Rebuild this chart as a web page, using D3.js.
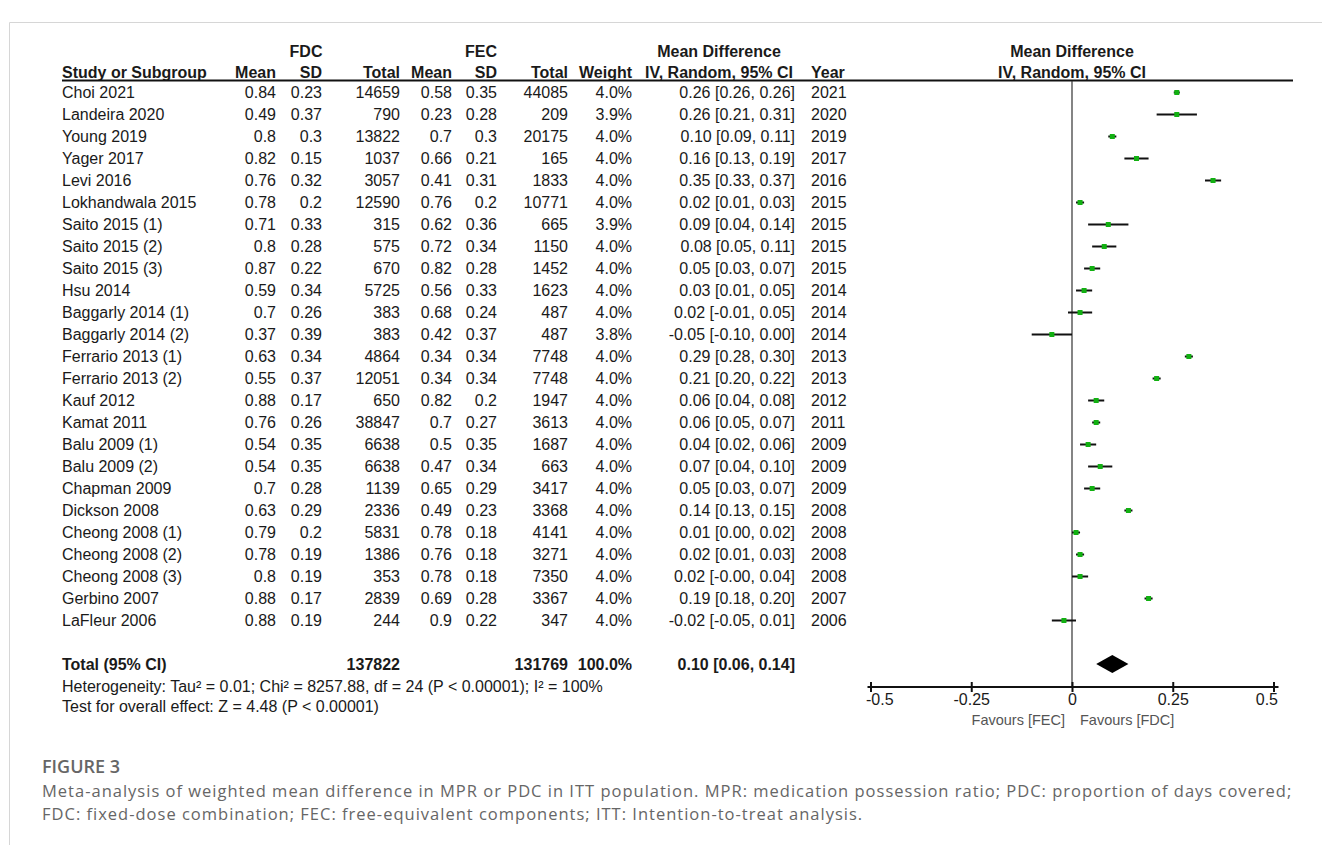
<!DOCTYPE html>
<html>
<head>
<meta charset="utf-8">
<script src="https://cdn.jsdelivr.net/npm/d3@7"></script>
<style>
  html, body { margin: 0; padding: 0; background: #fff; }
  svg { display: block; }
</style>
</head>
<body>
<svg id="chart" width="1322" height="845"></svg>
<script>
// ---------- data ----------
const studies = ["Choi 2021","Landeira 2020","Young 2019","Yager 2017","Levi 2016","Lokhandwala 2015",
  "Saito 2015 (1)","Saito 2015 (2)","Saito 2015 (3)","Hsu 2014","Baggarly 2014 (1)","Baggarly 2014 (2)",
  "Ferrario 2013 (1)","Ferrario 2013 (2)","Kauf 2012","Kamat 2011","Balu 2009 (1)","Balu 2009 (2)",
  "Chapman 2009","Dickson 2008","Cheong 2008 (1)","Cheong 2008 (2)","Cheong 2008 (3)","Gerbino 2007","LaFleur 2006"];
const fdcMean = ["0.84","0.49","0.8","0.82","0.76","0.78","0.71","0.8","0.87","0.59","0.7","0.37","0.63","0.55","0.88","0.76","0.54","0.54","0.7","0.63","0.79","0.78","0.8","0.88","0.88"];
const fdcSD   = ["0.23","0.37","0.3","0.15","0.32","0.2","0.33","0.28","0.22","0.34","0.26","0.39","0.34","0.37","0.17","0.26","0.35","0.35","0.28","0.29","0.2","0.19","0.19","0.17","0.19"];
const fdcTotal= [14659,790,13822,1037,3057,12590,315,575,670,5725,383,383,4864,12051,650,38847,6638,6638,1139,2336,5831,1386,353,2839,244];
const fecMean = ["0.58","0.23","0.7","0.66","0.41","0.76","0.62","0.72","0.82","0.56","0.68","0.42","0.34","0.34","0.82","0.7","0.5","0.47","0.65","0.49","0.78","0.76","0.78","0.69","0.9"];
const fecSD   = ["0.35","0.28","0.3","0.21","0.31","0.2","0.36","0.34","0.28","0.33","0.24","0.37","0.34","0.34","0.2","0.27","0.35","0.34","0.29","0.23","0.18","0.18","0.18","0.28","0.22"];
const fecTotal= [44085,209,20175,165,1833,10771,665,1150,1452,1623,487,487,7748,7748,1947,3613,1687,663,3417,3368,4141,3271,7350,3367,347];
const weight  = ["4.0%","3.9%","4.0%","4.0%","4.0%","4.0%","3.9%","4.0%","4.0%","4.0%","4.0%","3.8%","4.0%","4.0%","4.0%","4.0%","4.0%","4.0%","4.0%","4.0%","4.0%","4.0%","4.0%","4.0%","4.0%"];
const md      = [0.26,0.26,0.10,0.16,0.35,0.02,0.09,0.08,0.05,0.03,0.02,-0.05,0.29,0.21,0.06,0.06,0.04,0.07,0.05,0.14,0.01,0.02,0.02,0.19,-0.02];
const ciLow   = [0.26,0.21,0.09,0.13,0.33,0.01,0.04,0.05,0.03,0.01,-0.01,-0.10,0.28,0.20,0.04,0.05,0.02,0.04,0.03,0.13,0.00,0.01,-0.00,0.18,-0.05];
const ciHigh  = [0.26,0.31,0.11,0.19,0.37,0.03,0.14,0.11,0.07,0.05,0.05,0.00,0.30,0.22,0.08,0.07,0.06,0.10,0.07,0.15,0.02,0.03,0.04,0.20,0.01];
const ciText  = ["0.26 [0.26, 0.26]","0.26 [0.21, 0.31]","0.10 [0.09, 0.11]","0.16 [0.13, 0.19]","0.35 [0.33, 0.37]","0.02 [0.01, 0.03]",
  "0.09 [0.04, 0.14]","0.08 [0.05, 0.11]","0.05 [0.03, 0.07]","0.03 [0.01, 0.05]","0.02 [-0.01, 0.05]","-0.05 [-0.10, 0.00]",
  "0.29 [0.28, 0.30]","0.21 [0.20, 0.22]","0.06 [0.04, 0.08]","0.06 [0.05, 0.07]","0.04 [0.02, 0.06]","0.07 [0.04, 0.10]",
  "0.05 [0.03, 0.07]","0.14 [0.13, 0.15]","0.01 [0.00, 0.02]","0.02 [0.01, 0.03]","0.02 [-0.00, 0.04]","0.19 [0.18, 0.20]","-0.02 [-0.05, 0.01]"];
const years   = [2021,2020,2019,2017,2016,2015,2015,2015,2015,2014,2014,2014,2013,2013,2012,2011,2009,2009,2009,2008,2008,2008,2008,2007,2006];

const totalFDC = 137822, totalFEC = 131769, totalWeight = "100.0%";
const pooled = {md: 0.10, lo: 0.06, hi: 0.14, text: "0.10 [0.06, 0.14]"};
const hetText = "Heterogeneity: Tau\u00B2 = 0.01; Chi\u00B2 = 8257.88, df = 24 (P < 0.00001); I\u00B2 = 100%";
const testText = "Test for overall effect: Z = 4.48 (P < 0.00001)";
const axisTicks = [-0.5, -0.25, 0, 0.25, 0.5];
const axisLabels = ["-0.5", "-0.25", "0", "0.25", "0.5"];
const favLeft = "Favours [FEC]", favRight = "Favours [FDC]";
const captionTitle = "FIGURE 3";
const captionLines = [
  "Meta-analysis of weighted mean difference in MPR or PDC in ITT population. MPR: medication possession ratio; PDC: proportion of days covered;",
  "FDC: fixed-dose combination; FEC: free-equivalent components; ITT: Intention-to-treat analysis."
];

// ---------- layout ----------
const svg = d3.select("#chart");
const FONT = "'Liberation Sans', Arial, Helvetica, sans-serif";
const TXT = "#1a1a1a";

// frame
svg.append("line").attr("x1", 9.5).attr("x2", 1322).attr("y1", 22.5).attr("y2", 22.5).attr("stroke", "#d6d6d6").attr("stroke-width", 1);
svg.append("line").attr("x1", 9.5).attr("x2", 9.5).attr("y1", 22.5).attr("y2", 845).attr("stroke", "#d6d6d6").attr("stroke-width", 1);

const x = d3.scaleLinear().domain([-0.5, 0.5]).range([870.5, 1273.5]);
const y = d3.scaleLinear().domain([0, studies.length - 1]).range([92.5, 92.5 + 22 * (studies.length - 1)]);
const yTotal = 664;

const cols = {
  study: 62, fdcMean: 276, fdcSD: 322, fdcTotal: 400, fecMean: 452, fecSD: 497, fecTotal: 568,
  weight: 632, ci: 795, year: 811
};

const g = svg.append("g").attr("font-family", FONT).attr("font-size", 16).attr("fill", TXT);

// headers
const h1 = 57, h2 = 78;
function txt(parent, xx, yy, s, anchor, bold) {
  return parent.append("text").attr("x", xx).attr("y", yy).attr("text-anchor", anchor || "start")
    .attr("font-weight", bold ? "bold" : "normal").text(s);
}
txt(g, cols.fdcSD - 16, h1, "FDC", "middle", true);
txt(g, cols.fecSD - 16, h1, "FEC", "middle", true);
txt(g, 719, h1, "Mean Difference", "middle", true);
txt(g, x(0), h1, "Mean Difference", "middle", true);
txt(g, cols.study, h2, "Study or Subgroup", "start", true);
txt(g, cols.fdcMean, h2, "Mean", "end", true);
txt(g, cols.fdcSD, h2, "SD", "end", true);
txt(g, cols.fdcTotal, h2, "Total", "end", true);
txt(g, cols.fecMean, h2, "Mean", "end", true);
txt(g, cols.fecSD, h2, "SD", "end", true);
txt(g, cols.fecTotal, h2, "Total", "end", true);
txt(g, cols.weight, h2, "Weight", "end", true);
txt(g, 719, h2, "IV, Random, 95% CI", "middle", true);
txt(g, cols.year, h2, "Year", "start", true);
txt(g, x(0), h2, "IV, Random, 95% CI", "middle", true);

// header rule
svg.append("line").attr("x1", 62).attr("x2", 1293).attr("y1", 80.5).attr("y2", 80.5)
  .attr("stroke", "#111").attr("stroke-width", 2);

// zero line
svg.append("line").attr("x1", x(0)).attr("x2", x(0)).attr("y1", 81).attr("y2", 687)
  .attr("stroke", "#333").attr("stroke-width", 1.2);

// rows
const rows = g.selectAll("g.row").data(studies).join("g").attr("class", "row")
  .attr("transform", (d, i) => `translate(0,${y(i) + 5.7})`);
rows.append("text").attr("x", cols.study).text(d => d);
rows.append("text").attr("x", cols.fdcMean).attr("text-anchor", "end").text((d, i) => fdcMean[i]);
rows.append("text").attr("x", cols.fdcSD).attr("text-anchor", "end").text((d, i) => fdcSD[i]);
rows.append("text").attr("x", cols.fdcTotal).attr("text-anchor", "end").text((d, i) => fdcTotal[i]);
rows.append("text").attr("x", cols.fecMean).attr("text-anchor", "end").text((d, i) => fecMean[i]);
rows.append("text").attr("x", cols.fecSD).attr("text-anchor", "end").text((d, i) => fecSD[i]);
rows.append("text").attr("x", cols.fecTotal).attr("text-anchor", "end").text((d, i) => fecTotal[i]);
rows.append("text").attr("x", cols.weight).attr("text-anchor", "end").text((d, i) => weight[i]);
rows.append("text").attr("x", cols.ci).attr("text-anchor", "end").text((d, i) => ciText[i]);
rows.append("text").attr("x", cols.year).text((d, i) => years[i]);

// CI lines and markers
const plot = svg.append("g");
plot.selectAll("line.ci").data(md).join("line").attr("class", "ci")
  .attr("x1", (d, i) => Math.min(x(ciLow[i]), x(d) - 3))
  .attr("x2", (d, i) => Math.max(x(ciHigh[i]), x(d) + 3))
  .attr("y1", (d, i) => y(i)).attr("y2", (d, i) => y(i))
  .attr("stroke", "#111").attr("stroke-width", 2);
plot.selectAll("rect.pt").data(md).join("rect").attr("class", "pt")
  .attr("x", d => x(d) - 2.5).attr("y", (d, i) => y(i) - 2.5)
  .attr("width", 5).attr("height", 5).attr("fill", "#12b012");

// total row
txt(g, cols.study, yTotal + 5.7, "Total (95% CI)", "start", true);
txt(g, cols.fdcTotal, yTotal + 5.7, totalFDC, "end", true);
txt(g, cols.fecTotal, yTotal + 5.7, totalFEC, "end", true);
txt(g, cols.weight, yTotal + 5.7, totalWeight, "end", true);
txt(g, cols.ci, yTotal + 5.7, pooled.text, "end", true);
txt(g, cols.study, 691.5, hetText, "start", false);
txt(g, cols.study, 712, testText, "start", false);

// diamond
plot.append("path")
  .attr("d", `M${x(pooled.lo)},${yTotal} L${x(pooled.md)},${yTotal - 9} L${x(pooled.hi)},${yTotal} L${x(pooled.md)},${yTotal + 9} Z`)
  .attr("fill", "#000");

// axis
const axisY = 687;
svg.append("line").attr("x1", x(-0.5) - 3).attr("x2", x(0.5) + 5).attr("y1", axisY).attr("y2", axisY)
  .attr("stroke", "#111").attr("stroke-width", 2);
const axis = d3.axisBottom(x).tickValues(axisTicks).tickFormat((d, i) => axisLabels[i]).tickSize(5).tickPadding(10);
const ax = svg.append("g").attr("transform", `translate(0,${axisY})`).call(axis);
ax.select(".domain").remove();
ax.selectAll(".tick line").attr("y1", -5).attr("y2", 5).attr("stroke", "#111").attr("stroke-width", 2);
ax.selectAll(".tick text").attr("font-family", FONT).attr("font-size", 16).attr("fill", TXT).attr("dy", "0.2em");
ax.selectAll(".tick text").filter((d, i) => i === 0).attr("text-anchor", "start").attr("dx", -5);
ax.selectAll(".tick text").filter((d, i) => i === axisTicks.length - 1).attr("text-anchor", "end").attr("dx", 4);

svg.append("text").attr("x", x(0) - 7).attr("y", 725).attr("text-anchor", "end")
  .attr("font-family", FONT).attr("font-size", 14.5).attr("fill", "#555").text(favLeft);
svg.append("text").attr("x", x(0) + 8).attr("y", 725).attr("text-anchor", "start")
  .attr("font-family", FONT).attr("font-size", 14.5).attr("fill", "#555").text(favRight);

// caption
const cap = svg.append("g").attr("font-family", "'Open Sans', 'Noto Sans', sans-serif").attr("fill", "#666");
cap.append("text").attr("x", 42).attr("y", 773).attr("font-size", 18).attr("font-weight", 600).text(captionTitle);
cap.selectAll("text.cl").data(captionLines).join("text").attr("class", "cl")
  .attr("x", 42).attr("y", (d, i) => 797 + i * 22.5).attr("font-size", 16.5)
  .attr("letter-spacing", 1.0).text(d => d);
</script>
</body>
</html>
